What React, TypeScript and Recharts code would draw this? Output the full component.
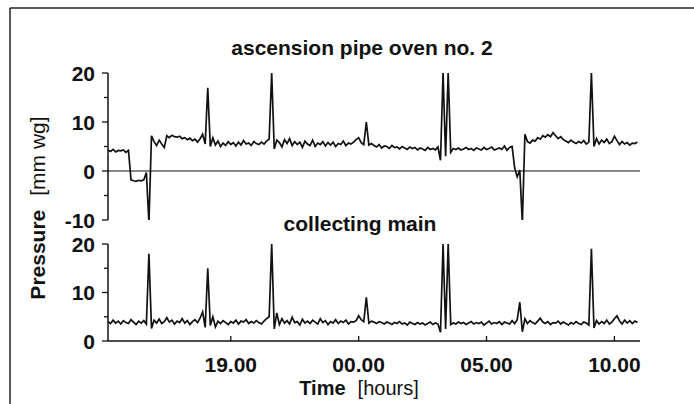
import { LineChart, Line, XAxis, YAxis, ReferenceLine } from "recharts";

// sampling of the recorder trace (hours, 14.2 = start of record)
const sampleStartHour = 14.2;
const sampleStepHour = 0.1;

const xTickHours = [19, 24, 29, 34];
const xTickLabels = ["19.00", "00.00", "05.00", "10.00"];
const topTicks = [-10, -5, 0, 5, 10, 15, 20];
const bottomTicks = [0, 5, 10, 15, 20];

// ascension pipe oven no. 2  [mm wg]
const ascensionPipe = [
  4.3, 4.0, 4.4, 3.9, 4.2, 4.1, 4.3, 3.8, 4.2,
  -1.8, -2.0, -2.1, -1.9, -2.0, -1.8, -0.3, -10.6, 7.2,
  6.0, 5.2, 6.3, 5.5, 4.8,
  7.2, 6.8, 7.3, 7.0, 6.9, 7.1, 6.6, 6.8, 6.4, 6.7, 6.2, 6.5, 5.9, 6.6,
  7.5, 5.5, 17.0, 5.0, 6.8, 5.3,
  6.1, 5.0, 5.7, 5.2, 6.0, 5.4, 5.8, 5.1, 5.9, 5.3, 6.2, 5.5, 5.7, 5.2, 6.0, 5.6, 5.4, 5.9, 5.5, 6.1,
  6.5, 20.0, 4.5, 6.3,
  5.8, 4.9, 6.4, 5.6, 6.6, 5.2, 6.0, 5.4, 5.9, 4.8, 6.1, 5.5, 5.2, 6.3, 5.0, 5.7, 5.4, 6.0, 5.1, 5.8,
  5.3, 5.9, 5.0, 5.6, 5.4, 6.1, 5.2, 5.7, 5.5, 5.9, 6.4, 6.8,
  5.8, 5.4, 10.0, 5.3, 5.6,
  5.2, 4.9, 5.4, 4.7, 5.1, 5.0, 4.6, 5.2, 4.8, 4.9, 4.5, 5.0, 4.7, 4.4, 4.9, 4.6, 4.8, 4.3, 4.7, 4.5,
  4.2, 4.8, 4.4, 4.6, 4.3, 4.9,
  2.2, 20.0, 3.0, 20.0, 3.8,
  4.6, 4.4, 4.7, 4.3, 4.5, 4.8, 4.4, 4.6, 4.2, 4.7, 4.5, 4.3, 4.8, 4.4, 4.6, 4.9, 4.3, 4.5, 4.7, 4.4,
  5.1, 4.2, 4.8, 5.0,
  0.6, -1.2, 0.2, -10.6, 7.5,
  6.0, 5.7, 6.3, 6.1, 6.8, 6.5, 7.2, 6.9, 7.4, 7.0, 7.8, 7.2, 6.6, 7.0, 6.4, 6.1, 5.8, 6.3, 5.9, 5.6,
  6.0, 5.7, 6.2, 5.5, 5.9,
  20.0, 5.0, 6.6, 5.5,
  6.3, 5.8, 6.5, 5.6, 6.0, 7.1, 6.2, 5.4, 6.0, 5.5, 5.8, 5.3, 5.7, 5.6, 5.9,
];

// collecting main  [mm wg]
const collectingMain = [
  4.0, 3.6, 4.3, 3.7, 4.1, 3.5, 4.2, 3.8, 3.6, 4.4, 3.9, 3.4, 4.1, 3.7, 4.2, 3.5,
  18.0, 2.6, 4.3,
  3.7, 4.5, 3.6, 4.0, 4.8, 3.9, 4.3, 3.5, 4.1, 3.8, 4.6, 3.7, 4.2, 3.4, 4.0, 4.4, 3.8, 4.7, 6.0,
  2.8, 15.0, 3.2, 5.0, 2.9,
  4.1, 3.6, 4.2, 3.8, 3.4, 4.0, 3.7, 4.3, 3.5, 4.1, 3.9, 4.4, 3.6, 4.0, 3.7, 4.2, 3.8, 3.5, 4.1, 4.6,
  5.0, 20.0, 2.5, 5.8,
  3.4, 4.6, 3.7, 4.2, 3.5, 4.9, 3.8, 4.0, 3.3, 4.5, 3.7, 4.1, 3.6, 4.3, 3.9, 3.5, 4.6, 3.8, 4.2, 3.4,
  4.0, 3.7, 4.4, 3.6, 4.1, 3.8, 4.3, 3.5, 4.0, 3.9, 4.2, 5.2, 4.4,
  4.0, 9.0, 3.7, 4.1,
  3.9, 3.6, 4.0, 3.8, 3.5, 3.9, 3.7, 3.4, 3.8, 3.6, 4.0, 3.5, 3.7, 3.3, 3.9, 3.6, 3.4, 3.8, 3.5, 3.7,
  3.3, 3.6, 3.9, 3.4, 3.7, 3.5,
  1.8, 20.0, 2.5, 20.0, 3.4,
  3.7, 3.5, 3.9, 3.6, 3.8, 3.4, 3.7, 4.0, 3.5, 3.8, 3.6, 3.9, 3.3, 3.7, 4.1, 3.5, 3.8, 3.6, 4.0, 3.4,
  3.9, 3.7, 3.5, 4.2, 3.6,
  4.4, 8.0, 1.9, 4.6,
  3.6, 4.2, 3.8, 3.5, 4.1, 4.7, 3.9, 3.6, 4.0, 3.4, 3.8, 3.7, 4.1, 3.5, 3.9, 3.6, 3.3, 3.8, 3.5, 4.0,
  3.6, 3.4, 3.9, 3.7, 3.3,
  19.0, 2.7, 4.2, 3.5,
  4.0, 3.6, 4.3, 3.5, 3.9, 4.6, 5.2, 4.1, 3.5, 4.3, 3.7, 4.2, 3.6, 4.1, 3.8,
];

const topData = ascensionPipe.map((v, i) => ({ t: sampleStartHour + i * sampleStepHour, v }));
const bottomData = collectingMain.map((v, i) => ({ t: sampleStartHour + i * sampleStepHour, v }));

const FONT = '"Liberation Sans", Arial, sans-serif';
const INK = "#111";

const YTick = (props: any) => {
  const { x, y, payload } = props;
  const major = payload.value % 10 === 0;
  return (
    <g>
      <line x1={x - (major ? 6 : 4)} x2={x} y1={y} y2={y} stroke={INK} strokeWidth={1.3} />
      {major && (
        <text x={x - 13} y={y} dy="0.36em" textAnchor="end" fontFamily={FONT} fontSize={21} fontWeight="bold" fill={INK}>
          {payload.value}
        </text>
      )}
    </g>
  );
};

const XTick = (props: any) => {
  const { x, y, payload } = props;
  const idx = xTickHours.indexOf(payload.value);
  return (
    <g>
      <line x1={x} x2={x} y1={y} y2={y - 5} stroke={INK} strokeWidth={1.3} />
      <text x={x} y={y + 31} textAnchor="middle" fontFamily={FONT} fontSize={21} fontWeight="bold" fill={INK}>
        {xTickLabels[idx]}
      </text>
    </g>
  );
};

export default function App() {
  return (
    <div style={{ position: "absolute", left: 0, top: 0, width: 694, height: 404, background: "#fff", overflow: "hidden" }}>
      <div style={{ position: "absolute", left: 0, top: 0 }}>
        <LineChart width={694} height={240} data={topData} margin={{ top: 73, right: 54, bottom: 20, left: 0 }}>
          <XAxis type="number" dataKey="t" domain={[14.2, 35]} hide />
          <YAxis
            domain={[-10, 20]}
            ticks={topTicks}
            interval={0}
            width={108}
            allowDataOverflow
            tickLine={false}
            tickSize={0}
            tickMargin={0}
            tick={<YTick />}
            axisLine={{ stroke: INK, strokeWidth: 1.5 }}
          />
          <ReferenceLine y={0} stroke={INK} strokeWidth={1} />
          <Line type="linear" dataKey="v" stroke={INK} strokeWidth={1.7} dot={false} isAnimationActive={false} />
        </LineChart>
      </div>
      <div style={{ position: "absolute", left: 0, top: 0 }}>
        <LineChart width={694} height={404} data={bottomData} margin={{ top: 244, right: 54, bottom: 33, left: 0 }}>
          <XAxis
            type="number"
            dataKey="t"
            domain={[14.2, 35]}
            ticks={xTickHours}
            interval={0}
            height={30}
            tickLine={false}
            tickSize={0}
            tickMargin={0}
            tick={<XTick />}
            axisLine={{ stroke: INK, strokeWidth: 1.5 }}
          />
          <YAxis
            domain={[0, 20]}
            ticks={bottomTicks}
            interval={0}
            width={108}
            allowDataOverflow
            tickLine={false}
            tickSize={0}
            tickMargin={0}
            tick={<YTick />}
            axisLine={{ stroke: INK, strokeWidth: 1.5 }}
          />
          <Line type="linear" dataKey="v" stroke={INK} strokeWidth={1.7} dot={false} isAnimationActive={false} />
        </LineChart>
      </div>
      <svg width={694} height={404} style={{ position: "absolute", left: 0, top: 0, pointerEvents: "none" }}>
        <line x1={10} y1={8} x2={694} y2={8} stroke="#222" strokeWidth={1.5} />
        <line x1={10} y1={8} x2={10} y2={404} stroke="#222" strokeWidth={1.5} />
        <text x={362} y={55} textAnchor="middle" fontFamily={FONT} fontSize={21} fontWeight="bold" fill={INK}>
          ascension pipe oven no. 2
        </text>
        <text x={360} y={231} textAnchor="middle" fontFamily={FONT} fontSize={21} fontWeight="bold" fill={INK}>
          collecting main
        </text>
        <text x={359} y={395} textAnchor="middle" fontFamily={FONT} fontSize={20} fill={INK}>
          <tspan fontWeight="bold">Time</tspan>
          <tspan dx={12}>[hours]</tspan>
        </text>
        <text transform="rotate(-90)" x={-208} y={45} textAnchor="middle" fontFamily={FONT} fontSize={21} fill={INK}>
          <tspan fontWeight="bold">Pressure</tspan>
          <tspan dx={14}>[mm wg]</tspan>
        </text>
      </svg>
    </div>
  );
}
